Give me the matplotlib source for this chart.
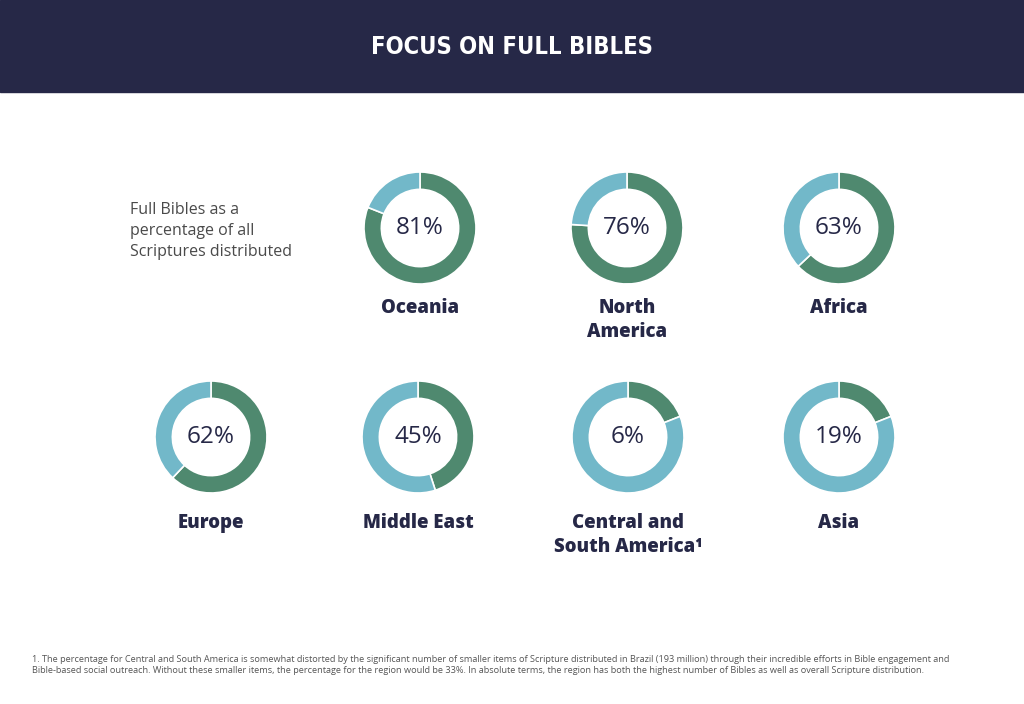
import matplotlib
matplotlib.use("Agg")
import matplotlib.pyplot as plt

# data
regions = ["Oceania", "North\nAmerica", "Africa", "Europe", "Middle East",
           "Central and\nSouth America\u00b9", "Asia"]
pct_labels = [81, 76, 63, 62, 45, 6, 19]
# arc shares as drawn (the 6% ring is drawn at about the same size as Asia)
arc_share = [81, 76, 63, 62, 45, 19, 19]

title = "FOCUS ON FULL BIBLES"
side_note = "Full Bibles as a\npercentage of all\nScriptures distributed"
footnote = ("1. The percentage for Central and South America is somewhat distorted by the significant number of smaller items "
            "of Scripture distributed in Brazil (193 million) through their incredible efforts in Bible engagement and\n"
            "Bible-based social outreach. Without these smaller items, the percentage for the region would be 33%. "
            "In absolute terms, the region has both the highest number of Bibles as well as overall Scripture distribution.")

navy = "#262847"
green = "#4f896f"
blue = "#72b8c9"
grey = "#4a4a4a"

plt.rcParams["font.family"] = ["Open Sans", "DejaVu Sans"]

W, H = 1024, 704
fig = plt.figure(figsize=(W / 100, H / 100), dpi=100)
fig.patch.set_facecolor("white")

# header band
bg = fig.add_axes([0, 0, 1, 1])
bg.set_xlim(0, W)
bg.set_ylim(H, 0)
bg.axis("off")
bg.axhspan(0, 92, color=navy, zorder=0)
bg.text(W / 2, 47, title, color="white", fontsize=17, fontweight="bold",
        family="DejaVu Sans", fontstretch="condensed", ha="center", va="center")
bg.text(130, 231, side_note, color=grey, fontsize=11.5, ha="left", va="center",
        linespacing=1.42)
bg.text(32, 665, footnote, color="#555555", fontsize=6.55, ha="left", va="center",
        linespacing=1.35)

# donut centres in pixels
centres = [(420, 228), (627, 228), (839, 228),
           (211, 437), (418, 437), (628, 437), (839, 437)]
label_y = [298, 298, 298, 513, 513, 513, 513]
R = 56
box = 60

for name, lab, share, (cx, cy), ly in zip(regions, pct_labels, arc_share, centres, label_y):
    ax = fig.add_axes([(cx - box) / W, 1 - (cy + box) / H, 2 * box / W, 2 * box / H])
    ax.pie([share, 100 - share], colors=[green, blue], startangle=90, counterclock=False,
           radius=1.0, wedgeprops=dict(width=0.31, edgecolor="white", linewidth=1.2))
    ax.set_xlim(-box / R, box / R)
    ax.set_ylim(-box / R, box / R)
    ax.set_aspect("equal")
    ax.axis("off")
    ax.text(0, 0, f"{lab}%", color=navy, fontsize=17.5, ha="center", va="center")
    bg.text(cx, ly, name, color=navy, fontsize=13.4, fontweight=800,
            ha="center", va="top", linespacing=1.25)

fig.savefig("out.png", dpi=100, facecolor="white")
